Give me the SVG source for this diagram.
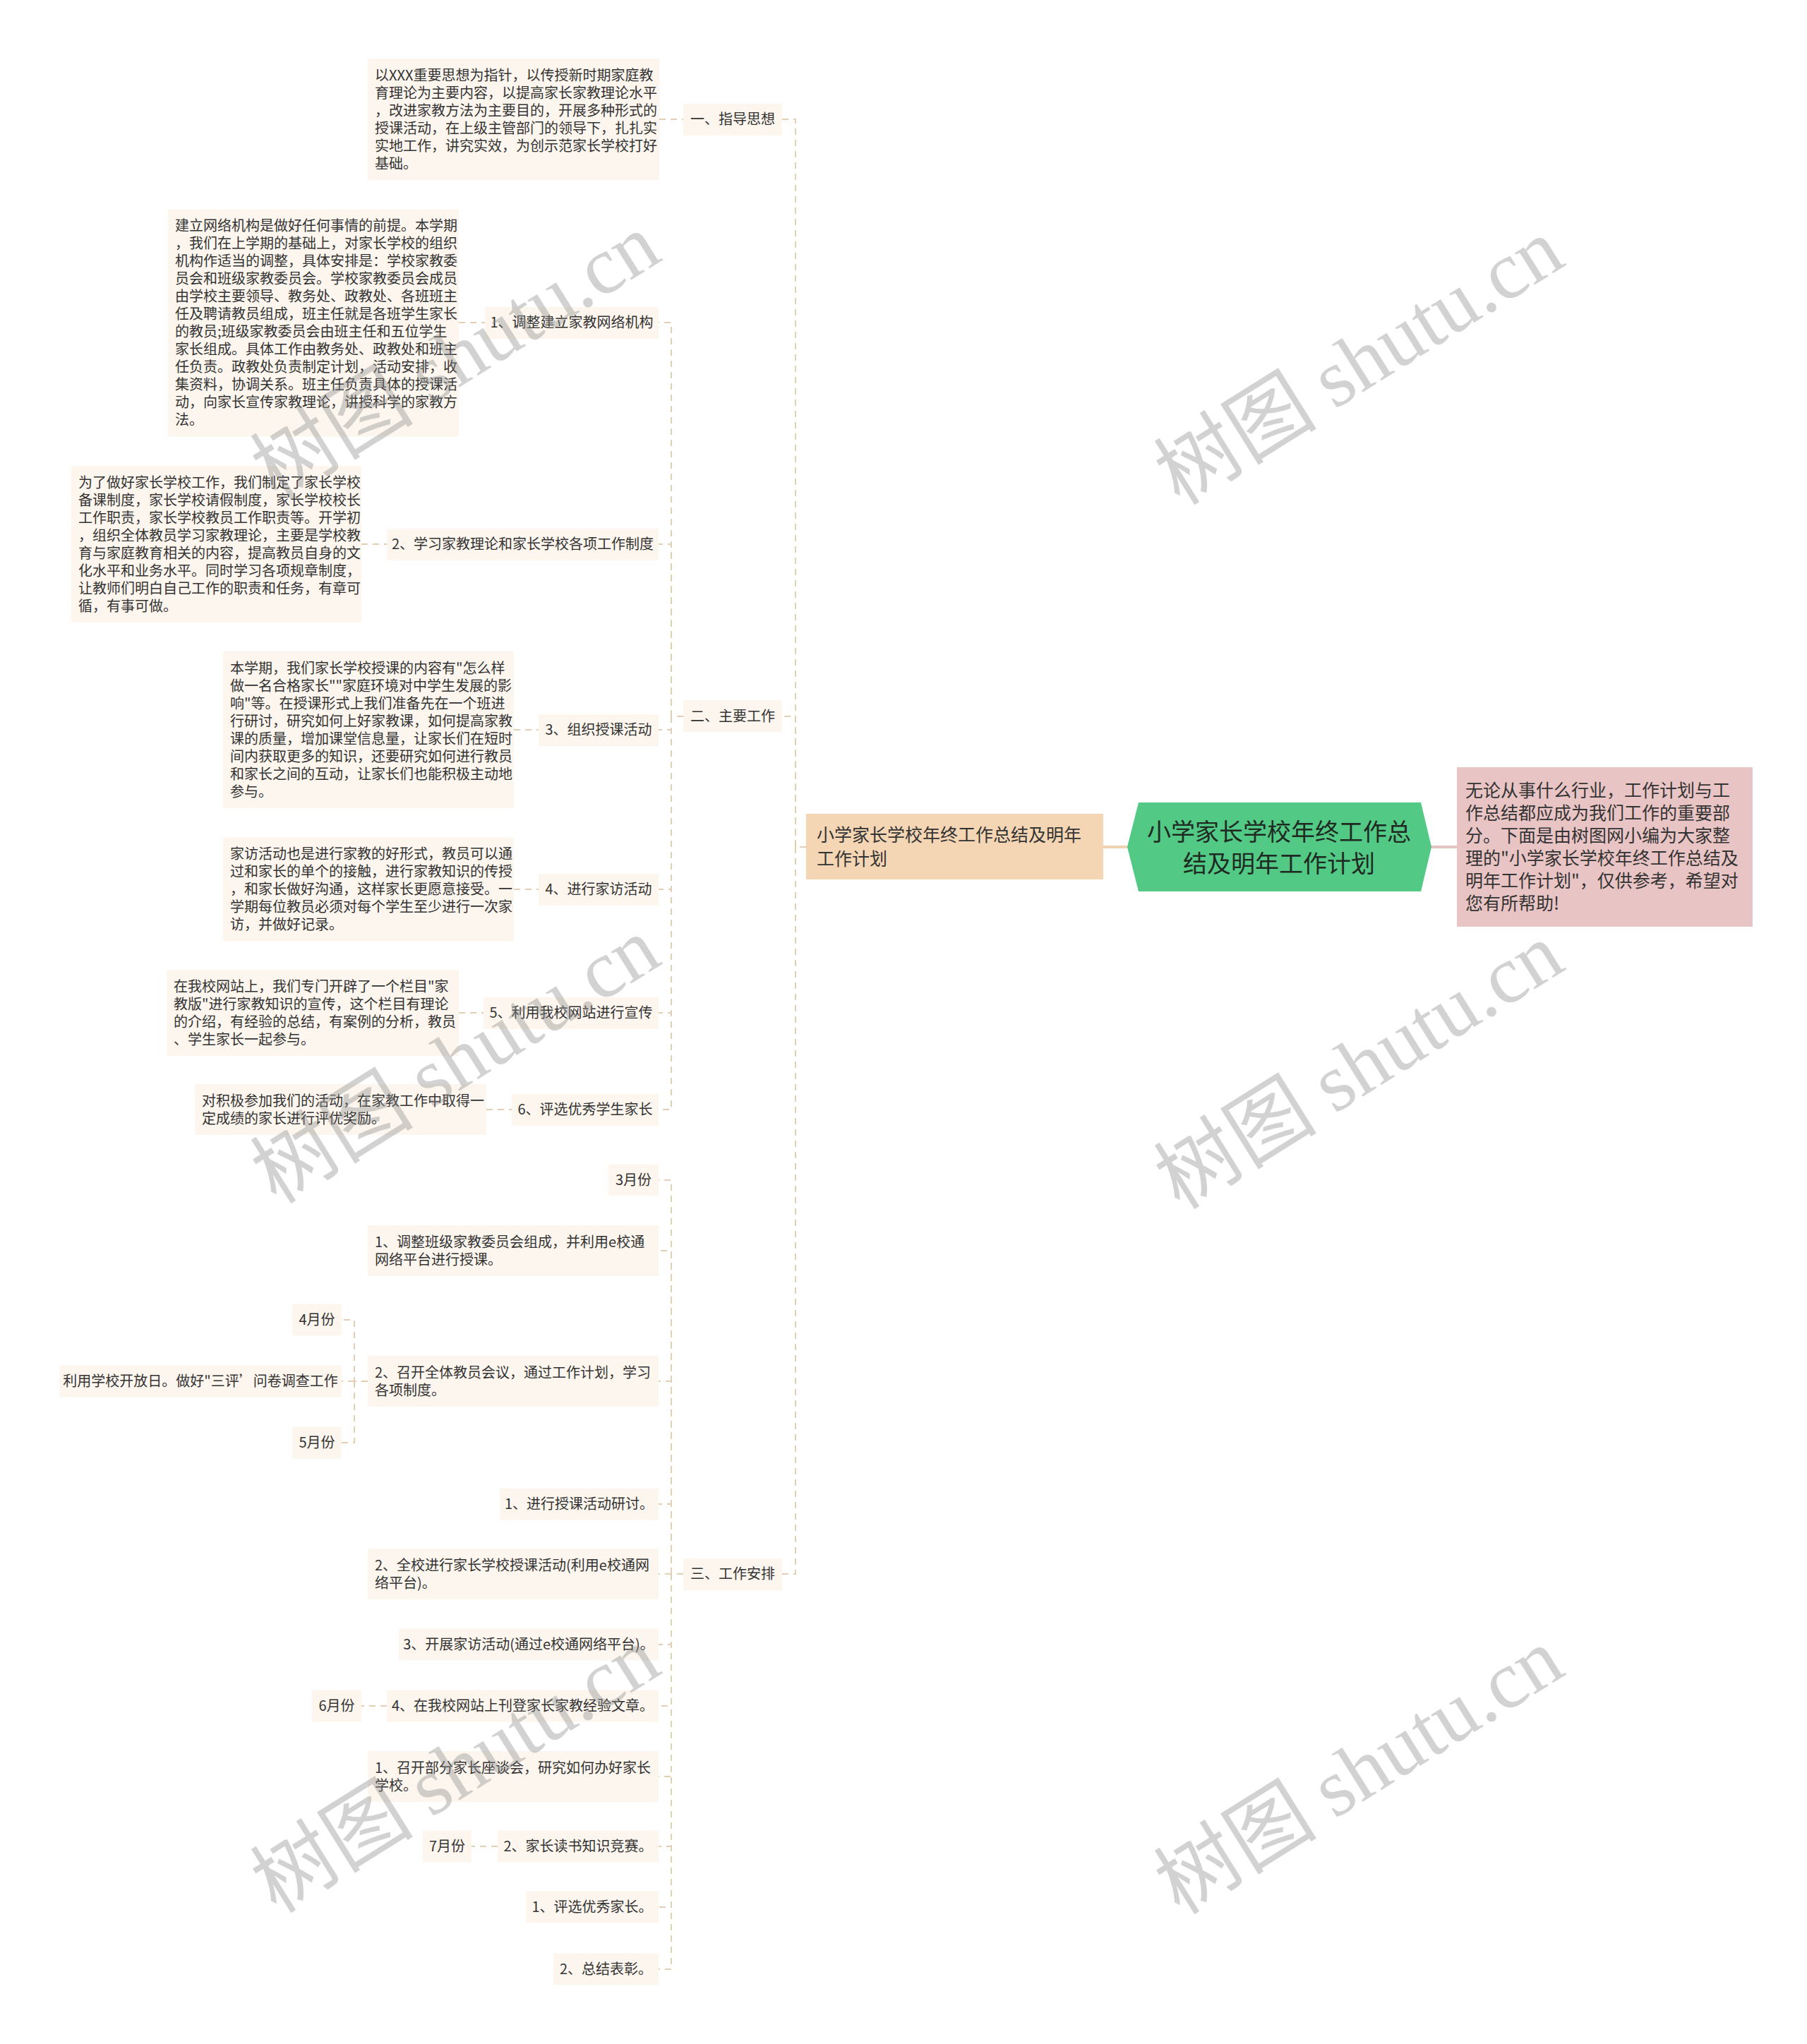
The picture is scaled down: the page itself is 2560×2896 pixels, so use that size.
<svg xmlns="http://www.w3.org/2000/svg" width="2560" height="2896" viewBox="0 0 2560 2896">
<style>
.bx{fill:#fdf6ee}
.t{font-family:"Noto Sans CJK SC","Noto Sans",sans-serif;font-size:20px;fill:#333}
.m{text-anchor:middle}
.c{fill:none;stroke:#e3cfb3;stroke-width:2;stroke-dasharray:9 7}
.wm{font-size:116px;fill:#8a8a8a;opacity:0.38}
</style>
<rect width="2560" height="2896" fill="#ffffff"/>

<g id="connectors">
  <path class="c" d="M1142,1200 H1127 V169 H1108"/>
  <path class="c" d="M1127,1200 V1015 H1108"/>
  <path class="c" d="M1127,1200 V2230 H1108"/>
  <path class="c" d="M934,169 H968"/>
  <path class="c" d="M968,1015 H951 V457 H933"/>
  <path class="c" d="M951,1015 V771 H933"/>
  <path class="c" d="M951,1015 V1034 H933"/>
  <path class="c" d="M951,1015 V1260 H933"/>
  <path class="c" d="M951,1015 V1435 H933"/>
  <path class="c" d="M951,1015 V1572 H933"/>
  <path class="c" d="M650,457 H687"/>
  <path class="c" d="M512,771 H548"/>
  <path class="c" d="M728,1034 H763"/>
  <path class="c" d="M728,1260 H763"/>
  <path class="c" d="M650,1435 H685"/>
  <path class="c" d="M689,1572 H725"/>
  <path class="c" d="M968,2230 H951 V1672 H933"/>
  <path class="c" d="M951,2230 V1772 H933"/>
  <path class="c" d="M951,2230 V1957 H933"/>
  <path class="c" d="M951,2230 V2131 H933"/>
  <path class="c" d="M951,2230 H933"/>
  <path class="c" d="M951,2230 V2330 H933"/>
  <path class="c" d="M951,2230 V2417 H933"/>
  <path class="c" d="M951,2230 V2517 H933"/>
  <path class="c" d="M951,2230 V2616 H933"/>
  <path class="c" d="M951,2230 V2702 H933"/>
  <path class="c" d="M951,2230 V2790 H933"/>
  <path class="c" d="M521,1957 H502 V1870 H484"/>
  <path class="c" d="M502,1957 H484"/>
  <path class="c" d="M502,1957 V2044 H484"/>
  <path class="c" d="M548,2417 H512"/>
  <path class="c" d="M705,2616 H668"/>
  <path d="M1563,1200 H1598" stroke="#efd2b2" stroke-width="4" fill="none"/>
  <path d="M2027,1200 H2064" stroke="#e6c3c3" stroke-width="4" fill="none"/>
</g>

<g id="root">
  <polygon points="1597,1200 1613,1137 2013,1137 2028,1200 2013,1263 1613,1263" fill="#52c985"/>
  <text class="t m" style="font-size:34px;fill:#1f2a22" x="1812" y="1191">小学家长学校年终工作总</text>
  <text class="t m" style="font-size:34px;fill:#1f2a22" x="1812" y="1236">结及明年工作计划</text>
</g>

<g id="main">
  <rect x="1142" y="1153" width="421" height="93" fill="#f4d6b4"/>
  <text class="t" style="font-size:25px" x="1157" y="1192">小学家长学校年终工作总结及明年</text>
  <text class="t" style="font-size:25px" x="1157" y="1226">工作计划</text>
</g>

<g id="intro">
  <rect x="2064" y="1087" width="419" height="226" fill="#e9c4c4"/>
  <text class="t" style="font-size:25px">
    <tspan x="2076" y="1129">无论从事什么行业，工作计划与工</tspan>
    <tspan x="2076" y="1161">作总结都应成为我们工作的重要部</tspan>
    <tspan x="2076" y="1193">分。下面是由树图网小编为大家整</tspan>
    <tspan x="2076" y="1225">理的"小学家长学校年终工作总结及</tspan>
    <tspan x="2076" y="1257">明年工作计划"，仅供参考，希望对</tspan>
    <tspan x="2076" y="1289">您有所帮助!</tspan>
  </text>
</g>

<g id="s1">
  <rect class="bx" x="968" y="147" width="140" height="45"/>
  <text class="t m" x="1038" y="176">一、指导思想</text>
</g>
<g id="s1-leaf">
  <rect class="bx" x="521" y="83" width="413" height="172"/>
  <text class="t">
    <tspan x="531" y="113.5">以XXX重要思想为指针，以传授新时期家庭教</tspan>
    <tspan x="531" y="138.5">育理论为主要内容，以提高家长家教理论水平</tspan>
    <tspan x="531" y="163.5">，改进家教方法为主要目的，开展多种形式的</tspan>
    <tspan x="531" y="188.5">授课活动，在上级主管部门的领导下，扎扎实</tspan>
    <tspan x="531" y="213.5">实地工作，讲究实效，为创示范家长学校打好</tspan>
    <tspan x="531" y="238.5">基础。</tspan>
  </text>
</g>

<g id="s2">
  <rect class="bx" x="968" y="992" width="140" height="45"/>
  <text class="t m" x="1038" y="1022">二、主要工作</text>
</g>
<g id="s2-1">
  <rect class="bx" x="687" y="435" width="246" height="45"/>
  <text class="t m" x="810" y="464">1、调整建立家教网络机构</text>
</g>
<g id="s2-1-leaf">
  <rect class="bx" x="238" y="296.5" width="412" height="322"/>
  <text class="t">
    <tspan x="248" y="327">建立网络机构是做好任何事情的前提。本学期</tspan>
    <tspan x="248" y="352">，我们在上学期的基础上，对家长学校的组织</tspan>
    <tspan x="248" y="377">机构作适当的调整，具体安排是：学校家教委</tspan>
    <tspan x="248" y="402">员会和班级家教委员会。学校家教委员会成员</tspan>
    <tspan x="248" y="427">由学校主要领导、教务处、政教处、各班班主</tspan>
    <tspan x="248" y="452">任及聘请教员组成，班主任就是各班学生家长</tspan>
    <tspan x="248" y="477">的教员;班级家教委员会由班主任和五位学生</tspan>
    <tspan x="248" y="502">家长组成。具体工作由教务处、政教处和班主</tspan>
    <tspan x="248" y="527">任负责。政教处负责制定计划，活动安排，收</tspan>
    <tspan x="248" y="552">集资料，协调关系。班主任负责具体的授课活</tspan>
    <tspan x="248" y="577">动，向家长宣传家教理论，讲授科学的家教方</tspan>
    <tspan x="248" y="602">法。</tspan>
  </text>
</g>
<g id="s2-2">
  <rect class="bx" x="548" y="749" width="385" height="45"/>
  <text class="t m" x="740.5" y="778">2、学习家教理论和家长学校各项工作制度</text>
</g>
<g id="s2-2-leaf">
  <rect class="bx" x="101" y="660" width="411" height="222"/>
  <text class="t">
    <tspan x="111" y="690.5">为了做好家长学校工作，我们制定了家长学校</tspan>
    <tspan x="111" y="715.5">备课制度，家长学校请假制度，家长学校校长</tspan>
    <tspan x="111" y="740.5">工作职责，家长学校教员工作职责等。开学初</tspan>
    <tspan x="111" y="765.5">，组织全体教员学习家教理论，主要是学校教</tspan>
    <tspan x="111" y="790.5">育与家庭教育相关的内容，提高教员自身的文</tspan>
    <tspan x="111" y="815.5">化水平和业务水平。同时学习各项规章制度，</tspan>
    <tspan x="111" y="840.5">让教师们明白自己工作的职责和任务，有章可</tspan>
    <tspan x="111" y="865.5">循，有事可做。</tspan>
  </text>
</g>
<g id="s2-3">
  <rect class="bx" x="763" y="1012" width="170" height="45"/>
  <text class="t m" x="848" y="1041">3、组织授课活动</text>
</g>
<g id="s2-3-leaf">
  <rect class="bx" x="316" y="923" width="412" height="222"/>
  <text class="t">
    <tspan x="326" y="953.5">本学期，我们家长学校授课的内容有"怎么样</tspan>
    <tspan x="326" y="978.5">做一名合格家长""家庭环境对中学生发展的影</tspan>
    <tspan x="326" y="1003.5">响"等。在授课形式上我们准备先在一个班进</tspan>
    <tspan x="326" y="1028.5">行研讨，研究如何上好家教课，如何提高家教</tspan>
    <tspan x="326" y="1053.5">课的质量，增加课堂信息量，让家长们在短时</tspan>
    <tspan x="326" y="1078.5">间内获取更多的知识，还要研究如何进行教员</tspan>
    <tspan x="326" y="1103.5">和家长之间的互动，让家长们也能积极主动地</tspan>
    <tspan x="326" y="1128.5">参与。</tspan>
  </text>
</g>
<g id="s2-4">
  <rect class="bx" x="763" y="1238" width="170" height="45"/>
  <text class="t m" x="848" y="1267">4、进行家访活动</text>
</g>
<g id="s2-4-leaf">
  <rect class="bx" x="316" y="1186.5" width="412" height="147"/>
  <text class="t">
    <tspan x="326" y="1217">家访活动也是进行家教的好形式，教员可以通</tspan>
    <tspan x="326" y="1242">过和家长的单个的接触，进行家教知识的传授</tspan>
    <tspan x="326" y="1267">，和家长做好沟通，这样家长更愿意接受。一</tspan>
    <tspan x="326" y="1292">学期每位教员必须对每个学生至少进行一次家</tspan>
    <tspan x="326" y="1317">访，并做好记录。</tspan>
  </text>
</g>
<g id="s2-5">
  <rect class="bx" x="685" y="1413" width="248" height="45"/>
  <text class="t m" x="809" y="1442">5、利用我校网站进行宣传</text>
</g>
<g id="s2-5-leaf">
  <rect class="bx" x="236" y="1374" width="414" height="122"/>
  <text class="t">
    <tspan x="246" y="1404.5">在我校网站上，我们专门开辟了一个栏目"家</tspan>
    <tspan x="246" y="1429.5">教版"进行家教知识的宣传，这个栏目有理论</tspan>
    <tspan x="246" y="1454.5">的介绍，有经验的总结，有案例的分析，教员</tspan>
    <tspan x="246" y="1479.5">、学生家长一起参与。</tspan>
  </text>
</g>
<g id="s2-6">
  <rect class="bx" x="725" y="1550" width="208" height="45"/>
  <text class="t m" x="829" y="1579">6、评选优秀学生家长</text>
</g>
<g id="s2-6-leaf">
  <rect class="bx" x="276" y="1536" width="413" height="72"/>
  <text class="t">
    <tspan x="286" y="1566.5">对积极参加我们的活动，在家教工作中取得一</tspan>
    <tspan x="286" y="1591.5">定成绩的家长进行评优奖励。</tspan>
  </text>
</g>

<g id="s3">
  <rect class="bx" x="968" y="2208" width="140" height="45"/>
  <text class="t m" x="1038" y="2237">三、工作安排</text>
</g>
<g id="s3-mar">
  <rect class="bx" x="862" y="1649.5" width="71" height="45"/>
  <text class="t m" x="897.5" y="1679">3月份</text>
</g>
<g id="s3-b">
  <rect class="bx" x="521" y="1736" width="412" height="72"/>
  <text class="t">
    <tspan x="531" y="1766.5">1、调整班级家教委员会组成，并利用e校通</tspan>
    <tspan x="531" y="1791.5">网络平台进行授课。</tspan>
  </text>
</g>
<g id="s3-c">
  <rect class="bx" x="521" y="1921" width="412" height="72"/>
  <text class="t">
    <tspan x="531" y="1951.5">2、召开全体教员会议，通过工作计划，学习</tspan>
    <tspan x="531" y="1976.5">各项制度。</tspan>
  </text>
</g>
<g id="s3-apr">
  <rect class="bx" x="414" y="1847.5" width="70" height="45"/>
  <text class="t m" x="449" y="1877">4月份</text>
</g>
<g id="s3-open">
  <rect class="bx" x="84" y="1934.5" width="400" height="45"/>
  <text class="t m" x="284" y="1964">利用学校开放日。做好"三评’问卷调查工作</text>
</g>
<g id="s3-may">
  <rect class="bx" x="414" y="2021.5" width="70" height="45"/>
  <text class="t m" x="449" y="2051">5月份</text>
</g>
<g id="s3-d">
  <rect class="bx" x="708" y="2108.5" width="225" height="45"/>
  <text class="t m" x="820.5" y="2138">1、进行授课活动研讨。</text>
</g>
<g id="s3-e">
  <rect class="bx" x="521" y="2194" width="412" height="72"/>
  <text class="t">
    <tspan x="531" y="2224.5">2、全校进行家长学校授课活动(利用e校通网</tspan>
    <tspan x="531" y="2249.5">络平台)。</tspan>
  </text>
</g>
<g id="s3-f">
  <rect class="bx" x="565" y="2307.5" width="368" height="45"/>
  <text class="t m" x="749" y="2337">3、开展家访活动(通过e校通网络平台)。</text>
</g>
<g id="s3-g">
  <rect class="bx" x="548" y="2394.5" width="385" height="45"/>
  <text class="t m" x="740.5" y="2424">4、在我校网站上刊登家长家教经验文章。</text>
</g>
<g id="s3-jun">
  <rect class="bx" x="442" y="2394.5" width="70" height="45"/>
  <text class="t m" x="477" y="2424">6月份</text>
</g>
<g id="s3-h">
  <rect class="bx" x="521" y="2481" width="412" height="72"/>
  <text class="t">
    <tspan x="531" y="2511.5">1、召开部分家长座谈会，研究如何办好家长</tspan>
    <tspan x="531" y="2536.5">学校。</tspan>
  </text>
</g>
<g id="s3-i">
  <rect class="bx" x="705" y="2593.5" width="228" height="45"/>
  <text class="t m" x="819" y="2623">2、家长读书知识竞赛。</text>
</g>
<g id="s3-jul">
  <rect class="bx" x="599" y="2593.5" width="69" height="45"/>
  <text class="t m" x="633.5" y="2623">7月份</text>
</g>
<g id="s3-j">
  <rect class="bx" x="745" y="2679.5" width="188" height="45"/>
  <text class="t m" x="839" y="2709">1、评选优秀家长。</text>
</g>
<g id="s3-k">
  <rect class="bx" x="784" y="2767.5" width="149" height="45"/>
  <text class="t m" x="858.5" y="2797">2、总结表彰。</text>
</g>

<g id="watermarks">
  <text class="wm m" transform="translate(645,505) rotate(-32)" y="40"><tspan style="font-family:'Noto Sans CJK SC',sans-serif">树图 </tspan><tspan style="font-family:'Liberation Serif',serif">shutu.cn</tspan></text>
  <text class="wm m" transform="translate(1925,512) rotate(-32)" y="40"><tspan style="font-family:'Noto Sans CJK SC',sans-serif">树图 </tspan><tspan style="font-family:'Liberation Serif',serif">shutu.cn</tspan></text>
  <text class="wm m" transform="translate(645,1502) rotate(-32)" y="40"><tspan style="font-family:'Noto Sans CJK SC',sans-serif">树图 </tspan><tspan style="font-family:'Liberation Serif',serif">shutu.cn</tspan></text>
  <text class="wm m" transform="translate(1925,1510) rotate(-32)" y="40"><tspan style="font-family:'Noto Sans CJK SC',sans-serif">树图 </tspan><tspan style="font-family:'Liberation Serif',serif">shutu.cn</tspan></text>
  <text class="wm m" transform="translate(645,2507) rotate(-32)" y="40"><tspan style="font-family:'Noto Sans CJK SC',sans-serif">树图 </tspan><tspan style="font-family:'Liberation Serif',serif">shutu.cn</tspan></text>
  <text class="wm m" transform="translate(1925,2509) rotate(-32)" y="40"><tspan style="font-family:'Noto Sans CJK SC',sans-serif">树图 </tspan><tspan style="font-family:'Liberation Serif',serif">shutu.cn</tspan></text>
</g>
</svg>
